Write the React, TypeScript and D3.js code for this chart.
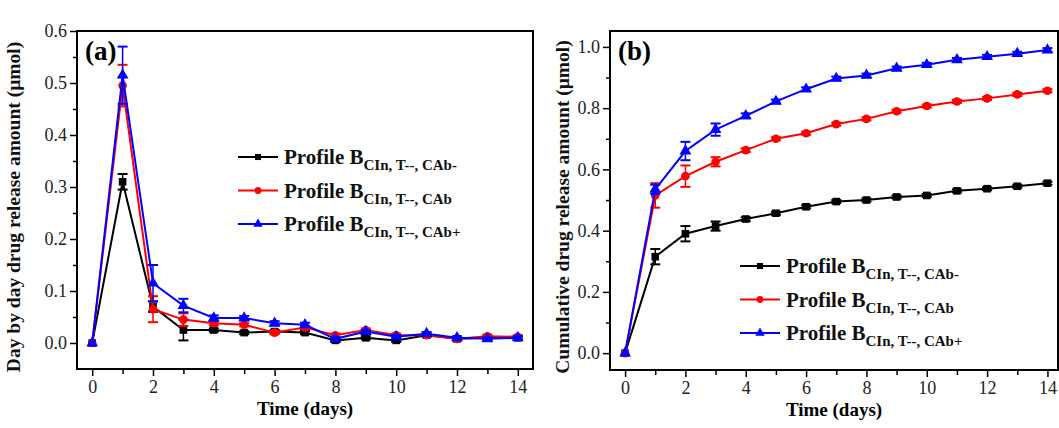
import React, { useEffect, useRef } from "react";
import * as d3 from "d3";

const days = [0, 1, 2, 3, 4, 5, 6, 7, 8, 9, 10, 11, 12, 13, 14];

const dailyBlack = [0, 0.31, 0.07, 0.025, 0.025, 0.02, 0.022, 0.02, 0.005, 0.01, 0.005, 0.015, 0.008, 0.01, 0.01];
const dailyRed = [0, 0.495, 0.065, 0.045, 0.038, 0.035, 0.02, 0.03, 0.015, 0.025, 0.015, 0.015, 0.008, 0.013, 0.012];
const dailyBlue = [0, 0.515, 0.115, 0.072, 0.048, 0.048, 0.038, 0.035, 0.008, 0.022, 0.012, 0.018, 0.01, 0.008, 0.01];
const dailyBlackErr = [0, 0.015, 0.01, 0.02, 0.003, 0.003, 0.003, 0.003, 0.003, 0.003, 0.003, 0.003, 0.003, 0.003, 0.003];
const dailyRedErr = [0, 0.04, 0.025, 0.012, 0.004, 0.003, 0.003, 0.003, 0.003, 0.003, 0.003, 0.003, 0.003, 0.003, 0.003];
const dailyBlueErr = [0, 0.055, 0.035, 0.013, 0.005, 0.004, 0.004, 0.004, 0.003, 0.003, 0.003, 0.003, 0.003, 0.003, 0.003];

const cumBlack = [0, 0.315, 0.39, 0.415, 0.438, 0.457, 0.478, 0.495, 0.5, 0.51, 0.515, 0.53, 0.537, 0.545, 0.555];
const cumRed = [0, 0.515, 0.578, 0.625, 0.663, 0.7, 0.718, 0.748, 0.765, 0.79, 0.807, 0.822, 0.832, 0.845, 0.857];
const cumBlue = [0, 0.535, 0.66, 0.73, 0.775, 0.822, 0.862, 0.897, 0.907, 0.93, 0.942, 0.958, 0.968, 0.978, 0.99];
const cumBlackErr = [0, 0.025, 0.025, 0.015, 0.006, 0.005, 0.005, 0.005, 0.005, 0.005, 0.005, 0.005, 0.005, 0.005, 0.005];
const cumRedErr = [0, 0.04, 0.035, 0.015, 0.006, 0.005, 0.005, 0.005, 0.005, 0.005, 0.005, 0.005, 0.005, 0.005, 0.005];
const cumBlueErr = [0, 0.015, 0.03, 0.02, 0.008, 0.006, 0.006, 0.006, 0.006, 0.006, 0.006, 0.006, 0.006, 0.006, 0.006];

const seriesNames = ["CIn, T--, CAb-", "CIn, T--, CAb", "CIn, T--, CAb+"];
const seriesColors = ["#000000", "#ff0000", "#0000ff"];
const seriesShapes = ["square", "circle", "triangle"];

const yTicksA = [0, 0.1, 0.2, 0.3, 0.4, 0.5, 0.6];
const yTicksB = [0, 0.2, 0.4, 0.6, 0.8, 1.0];
const xTicks = [0, 2, 4, 6, 8, 10, 12, 14];

const FONT = "'Liberation Serif', 'Times New Roman', serif";

type Panel = {
  left: number; right: number; top: number; bottom: number;
  xDomain: [number, number]; yDomain: [number, number];
  yTicks: number[]; yMinor: number[]; yFmt: (v: number) => string;
  series: number[][]; errs: number[][];
  yLabel: string; tag: string; legendX: number; legendY: number; yLabelX: number;
};

function drawPanel(svg: d3.Selection<SVGSVGElement, unknown, null, undefined>, p: Panel) {
  const x = d3.scaleLinear().domain(p.xDomain).range([p.left, p.right]);
  const y = d3.scaleLinear().domain(p.yDomain).range([p.bottom, p.top]);
  const g = svg.append("g");

  g.append("rect").attr("x", p.left).attr("y", p.top).attr("width", p.right - p.left).attr("height", p.bottom - p.top)
    .attr("fill", "none").attr("stroke", "#000").attr("stroke-width", 2);

  const yAxis = d3.axisLeft(y).tickValues(p.yTicks).tickFormat((d) => p.yFmt(d as number)).tickSize(7).tickPadding(3);
  const ya = g.append("g").attr("transform", `translate(${p.left},0)`).call(yAxis);
  ya.select(".domain").remove();
  ya.selectAll("line").attr("stroke-width", 1.5);
  ya.selectAll("text").attr("font-family", FONT).attr("font-size", 18).attr("fill", "#222");
  const ym = g.append("g").attr("transform", `translate(${p.left},0)`).call(d3.axisLeft(y).tickValues(p.yMinor).tickFormat(() => "").tickSize(4));
  ym.select(".domain").remove();
  ym.selectAll("line").attr("stroke-width", 1.5);

  const xAxis = d3.axisBottom(x).tickValues(xTicks).tickFormat((d) => String(d)).tickSize(7).tickPadding(4);
  const xa = g.append("g").attr("transform", `translate(0,${p.bottom})`).call(xAxis);
  xa.select(".domain").remove();
  xa.selectAll("line").attr("stroke-width", 1.5);
  xa.selectAll("text").attr("font-family", FONT).attr("font-size", 18).attr("fill", "#222");
  const xm = g.append("g").attr("transform", `translate(0,${p.bottom})`).call(d3.axisBottom(x).tickValues(days.filter((d) => d % 2 === 1)).tickFormat(() => "").tickSize(5));
  xm.select(".domain").remove();
  xm.selectAll("line").attr("stroke-width", 1.5);

  g.append("text").attr("x", (p.left + p.right) / 2).attr("y", p.bottom + 46).attr("text-anchor", "middle")
    .attr("font-family", FONT).attr("font-weight", "bold").attr("font-size", 19).text("Time (days)");
  g.append("text").attr("transform", `translate(${p.yLabelX},207) rotate(-90)`).attr("text-anchor", "middle")
    .attr("font-family", FONT).attr("font-weight", "bold").attr("font-size", 19.5).attr("fill", "#111").text(p.yLabel);
  g.append("text").attr("x", p.left + 8).attr("y", p.top + 29).attr("font-family", FONT).attr("font-weight", "bold")
    .attr("font-size", 27).text(p.tag);

  const line = d3.line<number>().x((_, i) => x(days[i])).y((v) => y(v));

  p.series.forEach((vals, si) => {
    const c = seriesColors[si];
    const sg = g.append("g");
    sg.append("path").datum(vals).attr("d", line).attr("fill", "none").attr("stroke", c).attr("stroke-width", 2);
    vals.forEach((v, i) => {
      const e = p.errs[si][i];
      if (e > 0) {
        const cx = x(days[i]);
        sg.append("line").attr("x1", cx).attr("x2", cx).attr("y1", y(v - e)).attr("y2", y(v + e)).attr("stroke", c).attr("stroke-width", 1.5);
        [v - e, v + e].forEach((yy) => sg.append("line").attr("x1", cx - 5).attr("x2", cx + 5).attr("y1", y(yy)).attr("y2", y(yy)).attr("stroke", c).attr("stroke-width", 2));
      }
    });
    vals.forEach((v, i) => drawMarker(sg, seriesShapes[si], x(days[i]), y(v), c));
  });

  p.series.forEach((_, si) => {
    const ly = p.legendY + si * 33.5;
    const c = seriesColors[si];
    g.append("line").attr("x1", p.legendX).attr("x2", p.legendX + 40).attr("y1", ly).attr("y2", ly).attr("stroke", c).attr("stroke-width", 2);
    drawMarker(g, seriesShapes[si], p.legendX + 20, ly, c, 0.8);
    const t = g.append("text").attr("x", p.legendX + 46).attr("y", ly + 7).attr("font-family", FONT).attr("font-weight", "bold").attr("font-size", 21).attr("fill", "#111");
    t.append("tspan").text("Profile B");
    t.append("tspan").attr("dy", 6).attr("font-size", 15).text(seriesNames[si]);
  });
}

function drawMarker(g: d3.Selection<SVGGElement, unknown, null, undefined>, shape: string, cx: number, cy: number, c: string, s = 1) {
  if (shape === "square") {
    const h = 3.8 * s;
    g.append("rect").attr("x", cx - h).attr("y", cy - h).attr("width", 2 * h).attr("height", 2 * h).attr("fill", c);
  } else if (shape === "circle") {
    g.append("circle").attr("cx", cx).attr("cy", cy).attr("r", 4.3 * s).attr("fill", c);
  } else {
    const sym = d3.symbol().type(d3.symbolTriangle).size(60 * s * s);
    g.append("path").attr("d", sym() as string).attr("transform", `translate(${cx},${cy})`).attr("fill", c);
  }
}

export default function App() {
  const ref = useRef<SVGSVGElement>(null);
  useEffect(() => {
    const svg = d3.select(ref.current!);
    svg.selectAll("*").remove();
    drawPanel(svg, {
      left: 77, right: 533, top: 31, bottom: 369,
      xDomain: [-0.5, 14.5], yDomain: [-0.05, 0.6],
      yTicks: yTicksA, yMinor: [0.05, 0.15, 0.25, 0.35, 0.45, 0.55], yFmt: (v) => v.toFixed(1),
      series: [dailyBlack, dailyRed, dailyBlue], errs: [dailyBlackErr, dailyRedErr, dailyBlueErr],
      yLabel: "Day by day drug release amount (μmol)", tag: "(a)", legendX: 238, legendY: 157, yLabelX: 20,
    });
    drawPanel(svg, {
      left: 610, right: 1058, top: 31, bottom: 370,
      xDomain: [-0.5, 14.35], yDomain: [-0.055, 1.052],
      yTicks: yTicksB, yMinor: [0.1, 0.3, 0.5, 0.7, 0.9], yFmt: (v) => v.toFixed(1),
      series: [cumBlack, cumRed, cumBlue], errs: [cumBlackErr, cumRedErr, cumBlueErr],
      yLabel: "Cumulative drug release amount (μmol)", tag: "(b)", legendX: 740, legendY: 266, yLabelX: 569,
    });
  }, []);
  return (
    <svg ref={ref} width={1059} height={428} style={{ position: "absolute", left: 0, top: 0, background: "#fff" }} />
  );
}
